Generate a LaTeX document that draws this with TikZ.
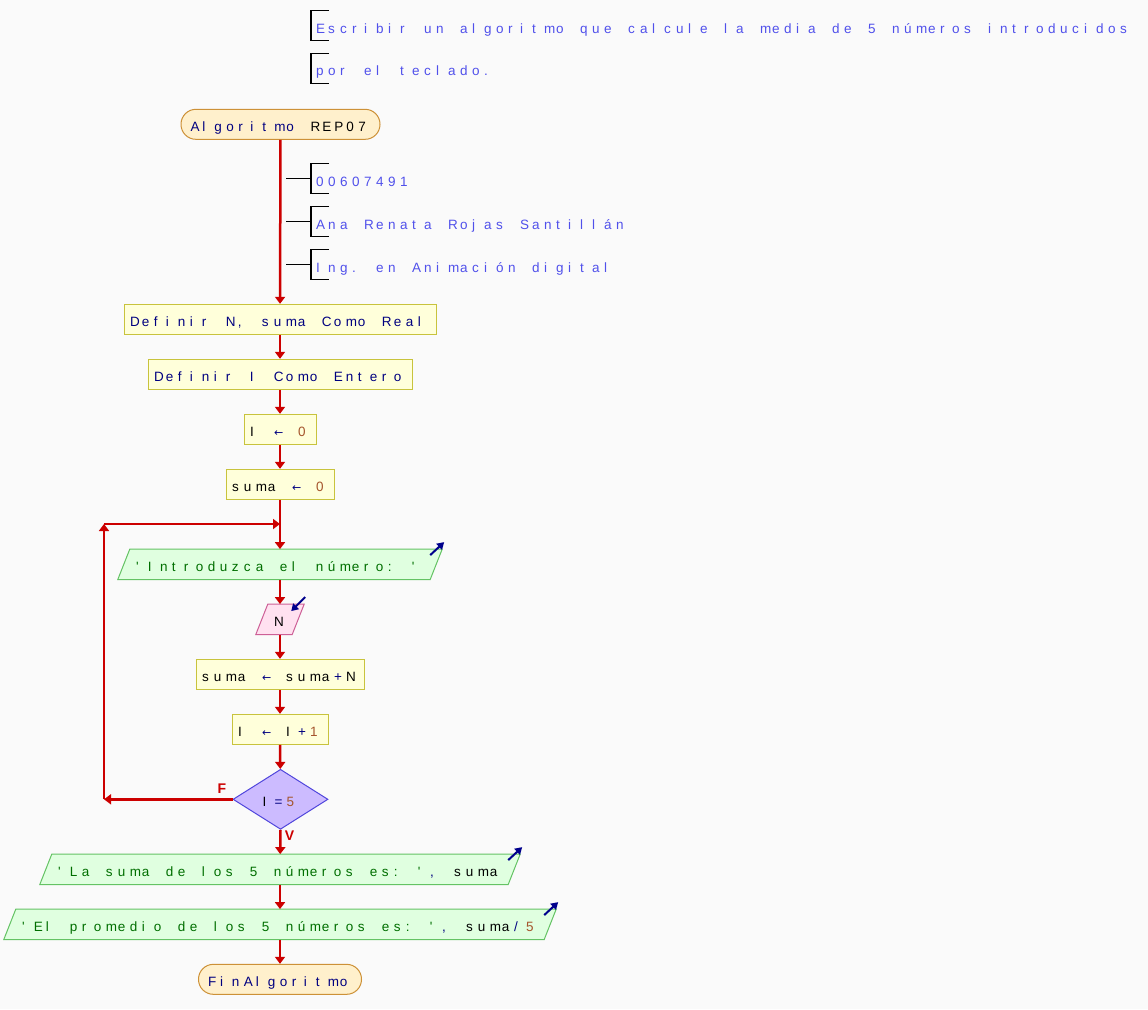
\documentclass[tikz,border=0pt]{standalone}
\usepackage{fontspec}
\newfontfamily\psfont{Liberation Sans}[Ligatures=TeXOff]
\newfontfamily\symfont{DejaVu Sans}
\usetikzlibrary{shapes.geometric,arrows.meta,calc,backgrounds}

% every character sits in a fixed 12pt cell, left aligned
\ExplSyntaxOn
\NewDocumentCommand\cells{m}{\str_map_inline:nn{#1}{\makebox[12pt][l]{##1}}}
\ExplSyntaxOff

\definecolor{pagebg}{RGB}{250,250,250}
\definecolor{kw}{RGB}{0,0,128}
\definecolor{cmt}{RGB}{80,80,235}
\definecolor{num}{RGB}{165,85,45}
\definecolor{strg}{RGB}{0,110,0}
\definecolor{flowred}{RGB}{204,0,0}
\definecolor{procfill}{RGB}{255,255,218}
\definecolor{procline}{RGB}{200,195,60}
\definecolor{termfill}{RGB}{255,240,204}
\definecolor{termline}{RGB}{205,145,55}
\definecolor{outfill}{RGB}{224,255,224}
\definecolor{outline}{RGB}{100,195,100}
\definecolor{infill}{RGB}{255,225,240}
\definecolor{inline}{RGB}{205,95,150}
\definecolor{decfill}{RGB}{204,187,255}
\definecolor{decline}{RGB}{80,70,220}
\definecolor{ioarrow}{RGB}{0,0,140}

\newcommand\pkw[1]{{\color{kw}\cells{#1}}}
\newcommand\pvar[1]{{\color{black}\cells{#1}}}
\newcommand\pnum[1]{{\color{num}\cells{#1}}}
\newcommand\pstr[1]{{\color{strg}\cells{#1}}}
% assignment arrow in its own cell
\newcommand\asg{{\color{kw}\makebox[12pt][l]{\symfont\fontsize{11}{13}\selectfont ←}}}

\begin{document}
\begin{tikzpicture}[x=1pt,y=-1pt,
  txt/.style={font=\psfont\fontsize{13.5}{15}\selectfont, text height=15pt,
    text depth=0pt, inner ysep=0pt, minimum height=30pt},
  proc/.style={txt, draw=procline, fill=procfill, line width=1pt, inner xsep=6pt},
  term/.style={txt, draw=termline, fill=termfill, line width=1pt,
    inner xsep=9.5pt, rounded corners=14.9pt},
  io/.style={txt, inner xsep=12pt},
  dec/.style={txt, diamond, draw=decline, fill=decfill, line width=1pt,
    minimum width=95pt, minimum height=60pt, inner xsep=0pt},
  note/.style={txt, anchor=west, inner xsep=5pt, text=cmt},
  bracket/.style={draw=black, line width=1.2pt},
  flow/.style={draw=flowred, line width=2.5pt, -{Triangle[width=10pt,length=7pt]}},
  ioarr/.style={draw=ioarrow, line width=2pt, -{Triangle[width=8pt,length=7pt]}},
  lbl/.style={font=\psfont\bfseries\fontsize{14}{16}\selectfont, text=flowred, inner sep=0pt}
]
\useasboundingbox (0,0) rectangle (1148,1009);

% header comments
\node[note] (c1) at (311,25.5) {\cells{Escribir un algoritmo que calcule la media de 5 números introducidos}};
\node[note] (c2) at (311,68.3) {\cells{por el teclado.}};

% flow
\node[term] (start) at (280.5,124.3) {\pkw{Algoritmo }\pvar{REP07}};

\node[note] (k1) at (311,178.5) {\cells{00607491}};
\node[note] (k2) at (311,221.5) {\cells{Ana Renata Rojas Santillán}};
\node[note] (k3) at (311,264.5) {\cells{Ing. en Animación digital}};

\node[proc] (def1) at (280,319.3) {\pkw{Definir N, suma Como Real}};
\node[proc] (def2) at (280,374.3) {\pkw{Definir I Como Entero}};
\node[proc] (i0)   at (280,429.3) {\pvar{I }\asg\pkw{ }\pnum{0}};
\node[proc] (s0)   at (280,484.3) {\pvar{suma }\asg\pkw{ }\pnum{0}};
\node[io]   (intro) at (280,564.3) {\pstr{'Introduzca el número: '}};
\node[io]   (rd)   at (280,619.3) {\pvar{N}};
\node[proc] (acc)  at (280,674.3) {\pvar{suma }\asg\pkw{ }\pvar{suma}\pkw{+}\pvar{N}};
\node[proc] (inc)  at (280,729.3) {\pvar{I }\asg\pkw{ }\pvar{I}\pkw{+}\pnum{1}};
\node[dec]  (cond) at (280.5,799.3) {\pvar{I}\pkw{=}\pnum{5}};
\node[io]   (out1) at (280,869.3) {\pstr{'La suma de los 5 números es: '}\pkw{, }\pvar{suma}};
\node[io]   (out2) at (280,924.3) {\pstr{'El promedio de los 5 números es: '}\pkw{, }\pvar{suma}\pkw{/}\pnum{5}};
\node[term] (fin)  at (280,979.3) {\pkw{FinAlgoritmo}};

% loop corners
\coordinate (lpA) at (104,799.3);
\coordinate (lpB) at (104,524);
\coordinate (lpC) at (280,524);

% page background and slanted data shapes
\begin{scope}[on background layer]
  \fill[pagebg] (0,0) rectangle (1148,1009);
  \foreach \n/\f/\d in {intro/outfill/outline, out1/outfill/outline,
                        out2/outfill/outline, rd/infill/inline}
    \filldraw[fill=\f, draw=\d, line width=1pt]
      ($(\n.south west)+(-6,0)$) -- ($(\n.north west)+(6,0)$) --
      ($(\n.north east)+(6,0)$) -- ($(\n.south east)+(-6,0)$) -- cycle;
\end{scope}

% comment brackets
\foreach \c in {c1,c2,k1,k2,k3}
  \draw[bracket] ($(\c.north west)+(18,0)$) -- (\c.north west) -- (\c.south west) -- ++(18,0);
\foreach \c in {k1,k2,k3}
  \draw[bracket] ($(\c.west)+(-25,0)$) -- (\c.west);

% connectors
\draw[flow] (start) -- (def1);
\draw[flow] (def1) -- (def2);
\draw[flow] (def2) -- (i0);
\draw[flow] (i0) -- (s0);
\draw[flow] (s0) -- (intro);
\draw[flow] (intro) -- (rd);
\draw[flow] (rd) -- (acc);
\draw[flow] (acc) -- (inc);
\draw[flow] (inc) -- (cond);
\draw[flow] (cond.west) -- (lpA);
\draw[flow] (lpA) -- (lpB);
\draw[flow] (lpB) -- (lpC);
\draw[flow] (cond.south) -- (out1);
\draw[flow] (out1) -- (out2);
\draw[flow] (out2) -- (fin);

% branch labels
\node[lbl] (lf) at (222,789) {F};
\node[lbl] (lv) at (289.5,836) {V};

% input / output markers
\foreach \n in {intro,out1,out2}
  \draw[ioarr] ($(\n.north east)+(-6,6)$) -- ++(14,-13);
\draw[ioarr] ($(rd.north east)+(7,-7)$) -- ++(-14,14);
\end{tikzpicture}
\end{document}
